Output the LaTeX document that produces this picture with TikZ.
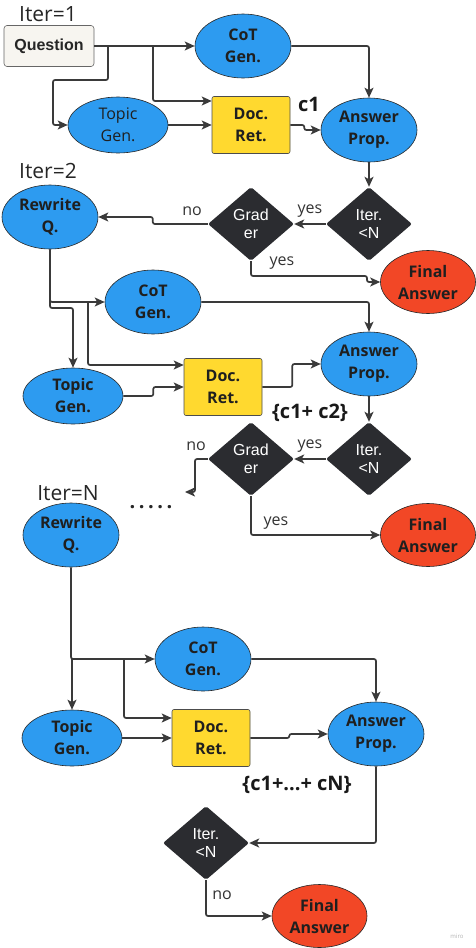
\documentclass[tikz,border=0pt]{standalone}
\usepackage{fontspec}
\setmainfont{Open Sans}
\newfontfamily\arialfont{Liberation Sans}
\usetikzlibrary{shapes.geometric,arrows.meta}
\definecolor{nodeblue}{HTML}{2D9BF0}
\definecolor{docyellow}{HTML}{FFD92F}
\definecolor{finalred}{HTML}{F24726}
\definecolor{gradedark}{HTML}{2B2C30}
\definecolor{qpaper}{HTML}{F7F5F0}
\definecolor{linegray}{HTML}{3A3A3A}

\begin{document}
\begin{tikzpicture}[x=1pt, y=-1pt,
    stepell/.style={ellipse, draw=black!85, line width=0.6pt, fill=nodeblue,
        minimum width=96pt, minimum height=64pt, inner sep=0pt, align=center,
        font=\fontsize{16}{22}\selectfont\bfseries, text=black!88},
    finalell/.style={stepell, fill=finalred, minimum width=95pt, minimum height=63pt},
    topicell/.style={stepell, minimum width=100pt, minimum height=56pt},
    docbox/.style={rectangle, rounded corners=2pt, draw=black!70, line width=0.6pt,
        fill=docyellow, minimum width=78pt, minimum height=57pt, inner sep=0pt,
        align=center, font=\fontsize{16}{22}\selectfont\bfseries, text=black!88},
    qbox/.style={rectangle, rounded corners=3pt, draw=black!60, line width=0.6pt,
        fill=qpaper, minimum width=90pt, minimum height=41pt,
        font=\arialfont\fontsize{16}{19}\selectfont\bfseries, text=black!85},
    gate/.style={diamond, fill=gradedark, rounded corners=2pt, minimum width=86pt,
        minimum height=74pt, inner sep=0pt, align=center, text=white,
        font=\arialfont\fontsize{16}{18}\selectfont},
    iterlbl/.style={font=\fontsize{21}{24}\selectfont, text=black!85},
    ctxlbl/.style={font=\fontsize{20}{24}\selectfont\bfseries, text=black!90},
    ans/.style={font=\fontsize{16}{18}\selectfont, text=black!80},
    flow/.style={draw=linegray, line width=1.7pt, rounded corners=2pt,
        -{Stealth[length=10pt, width=9pt, inset=2.5pt]}}]
\useasboundingbox (0,0) rectangle (476,948);

% iteration 1
\node[iterlbl] (lbl1) at (48,14) {Iter=1};
\node[qbox] (q1) at (49,46) {Question};
\node[stepell] (cot1) at (243,46) {CoT\\Gen.};
\node[topicell, font=\fontsize{16}{22}\selectfont] (top1) at (118,125) {Topic\\Gen.};
\node[docbox] (doc1) at (251,125) {Doc.\\Ret.};
\node[stepell] (ans1) at (369,130) {Answer\\Prop.};
\node[ctxlbl] (ctx1) at (309,104) {c1};
\node[gate] (it1) at (369,224) {Iter.\\<N};
\node[gate] (gr1) at (251,224) {Grad\\er};
\node[finalell] (fin1) at (428,282) {Final\\Answer};
\node[stepell] (rw2) at (50,217) {Rewrite\\Q.};
\coordinate (b1) at (108,46);
\coordinate (b2) at (153,46);

\draw[flow] (q1.east) -- (cot1.west);
\draw[flow] (b1) |- (53,80) |- (top1.west);
\draw[flow] (b2) |- ([yshift=24pt]doc1.west);
\draw[flow] (top1.east) -- (doc1.west);
\draw[flow] (doc1.east) -- ++(14,0) |- (ans1.west);
\draw[flow] (cot1.east) -| (ans1.north);
\draw[flow] (ans1.south) -- (it1.north);
\draw[flow] (it1.west) -- (gr1.east);
\draw[flow] (gr1.west) -- ++(-55,0) |- (rw2.east);
\draw[flow] (gr1.south) |- (367,276) |- (fin1.west);
\node[ans] (yes1) at (310,211) {yes};
\node[ans] (no1) at (192,211) {no};
\node[ans] (yes2) at (282,263) {yes};

% iteration 2
\node[iterlbl] (lbl2) at (48,171) {Iter=2};
\node[stepell] (cot2) at (153,302) {CoT\\Gen.};
\node[topicell] (top2) at (73,396) {Topic\\Gen.};
\node[docbox] (doc2) at (223,387) {Doc.\\Ret.};
\node[stepell] (ans2) at (369,364) {Answer\\Prop.};
\node[ctxlbl] (ctx2) at (310,413) {\{c1+ c2\}};
\node[gate] (it2) at (369,459) {Iter.\\<N};
\node[gate] (gr2) at (251,459) {Grad\\er};
\node[finalell] (fin2) at (428,535) {Final\\Answer};
\coordinate (b3) at (88,302);
\coordinate (loopend) at (185,492);

\draw[flow] (rw2.south) |- (cot2.west);
\draw[flow] (rw2.south) |- (73,308) -- (top2.north);
\draw[flow] (b3) |- ([yshift=22pt]doc2.west);
\draw[flow] (top2.east) -- ++(30,0) |- (doc2.west);
\draw[flow] (doc2.east) -- ++(30,0) |- (ans2.west);
\draw[flow] (cot2.east) -| (ans2.north);
\draw[flow] (ans2.south) -- (it2.north);
\draw[flow] (it2.west) -- (gr2.east);
\draw[flow] (gr2.west) -- (195,459) |- (loopend);
\draw[flow] (gr2.south) |- (fin2.west);
\node[ans] (yes3) at (310,446) {yes};
\node[ans] (no2) at (196,446) {no};
\node[ans] (yes4) at (276,523) {yes};
\node[font=\fontsize{20}{22}\selectfont\bfseries, text=black!85] (dots) at (151,507)
    {.\hspace{3.5pt}.\hspace{3.5pt}.\hspace{3.5pt}.\hspace{3.5pt}.};

% iteration N
\node[iterlbl] (lbl3) at (68,493) {Iter=N};
\node[stepell] (rw3) at (71,535) {Rewrite\\Q.};
\node[stepell] (cot3) at (203,659) {CoT\\Gen.};
\node[topicell] (top3) at (72,738) {Topic\\Gen.};
\node[docbox] (doc3) at (211,738) {Doc.\\Ret.};
\node[stepell] (ans3) at (376,734) {Answer\\Prop.};
\node[ctxlbl] (ctx3) at (297,785) {\{c1+...+ cN\}};
\node[gate] (it3) at (206,843) {Iter.\\<N};
\node[finalell] (fin3) at (319.5,916) {Final\\Answer};
\coordinate (b5) at (72,659);
\coordinate (b6) at (124,659);

\draw[flow] (rw3.south) |- (cot3.west);
\draw[flow] (b5) -- (top3.north);
\draw[flow] (b6) |- ([yshift=20pt]doc3.west);
\draw[flow] (top3.east) -- (doc3.west);
\draw[flow] (doc3.east) -- ++(39,0) |- (ans3.west);
\draw[flow] (cot3.east) -| (ans3.north);
\draw[flow] (ans3.south) |- (it3.east);
\draw[flow] (it3.south) |- (fin3.west);
\node[ans] (no3) at (222,895) {no};

\node[font=\fontsize{6}{7}\selectfont, text=black!30] (mark) at (457,936) {miro};
\end{tikzpicture}
\end{document}
